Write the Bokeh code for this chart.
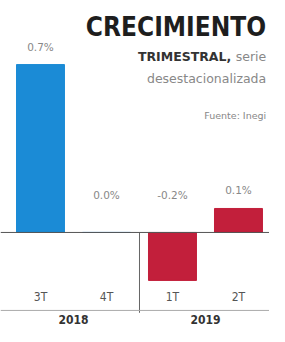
from bokeh.plotting import figure
from bokeh.models import Range1d, Span, ColumnDataSource
from bokeh.core.properties import value
from bokeh.embed import file_html
from bokeh.resources import INLINE

# ---- data ----
quarters = ["3T", "4T", "1T", "2T"]
years = ["2018", "2018", "2019", "2019"]
growth = [0.7, 0.0, -0.2, 0.1]
value_labels = ["0.7%", "0.0%", "-0.2%", "0.1%"]
year_names = ["2018", "2019"]
title_text = "CRECIMIENTO"
subtitle_bold = "TRIMESTRAL,"
subtitle_rest = "serie"
subtitle_line2 = "desestacionalizada"
source_note = "Fuente: Inegi"

BLUE = "#1b8bd6"
RED = "#c21f3b"
COND = "DejaVu Sans Condensed"
SANS = "DejaVu Sans"

xs = list(range(len(quarters)))
colors = [BLUE if y == year_names[0] else RED for y in years]
label_y = [max(v, 0.08) + 0.075 for v in growth]

src = ColumnDataSource(dict(x=xs, v=growth, color=colors, lab=value_labels,
                            ly=label_y, q=quarters))

p = figure(width=269, height=326, x_range=Range1d(-0.606, 3.47),
           y_range=Range1d(-0.392, 0.967), output_backend="svg",
           toolbar_location=None, min_border=0,
           x_axis_location=None, y_axis_location=None)
p.grid.visible = False
p.outline_line_color = None
p.background_fill_color = "white"

p.vbar(x="x", top="v", bottom=0, width=0.727, color="color", source=src)

p.add_layout(Span(location=0, dimension="width", line_color="#555555", line_width=1))
p.add_layout(Span(location=-0.325, dimension="width", line_color="#aaaaaa", line_width=1))

# divider between years
first_2019 = years.index(year_names[1])
div_x = first_2019 - 0.5
p.segment(x0=[div_x], y0=[0], x1=[div_x], y1=[-0.335], line_color="#666666", line_width=1)

p.text(x="x", y="ly", text="lab", source=src, text_align="center", text_baseline="middle",
       text_font=value(SANS), text_font_size="10.5px", text_color="#888888")
p.text(x="x", y=-0.267, text="q", source=src, text_align="center", text_baseline="middle",
       text_font=value(COND), text_font_size="12px", text_color="#555555")

year_x = [sum(i for i, y in enumerate(years) if y == yn) / years.count(yn) for yn in year_names]
p.text(x=year_x, y=[-0.3625] * 2, text=year_names, text_align="center", text_baseline="middle",
       text_font=value(COND), text_font_size="12px", text_font_style="bold", text_color="#333333")

# title block
RX = 3.42
p.text(x=[RX], y=[0.855], text=[title_text], text_align="right", text_baseline="middle",
       text_font=value(COND), text_font_size="26px", text_font_style="bold", text_color="#1e1e1e")
p.text(x=[RX], y=[0.735], text=[subtitle_rest], text_align="right", text_baseline="middle",
       text_font=value(SANS), text_font_size="12.5px", text_color="#888888")
p.text(x=[RX - 0.53], y=[0.735], text=[subtitle_bold], text_align="right", text_baseline="middle",
       text_font=value(SANS), text_font_size="12.5px", text_font_style="bold", text_color="#333333")
p.text(x=[RX], y=[0.64], text=[subtitle_line2], text_align="right", text_baseline="middle",
       text_font=value(SANS), text_font_size="12.5px", text_color="#888888")
p.text(x=[RX], y=[0.4875], text=[source_note], text_align="right", text_baseline="middle",
       text_font=value(SANS), text_font_size="9.5px", text_color="#888888")

open("out.html", "w").write(file_html(p, INLINE))
